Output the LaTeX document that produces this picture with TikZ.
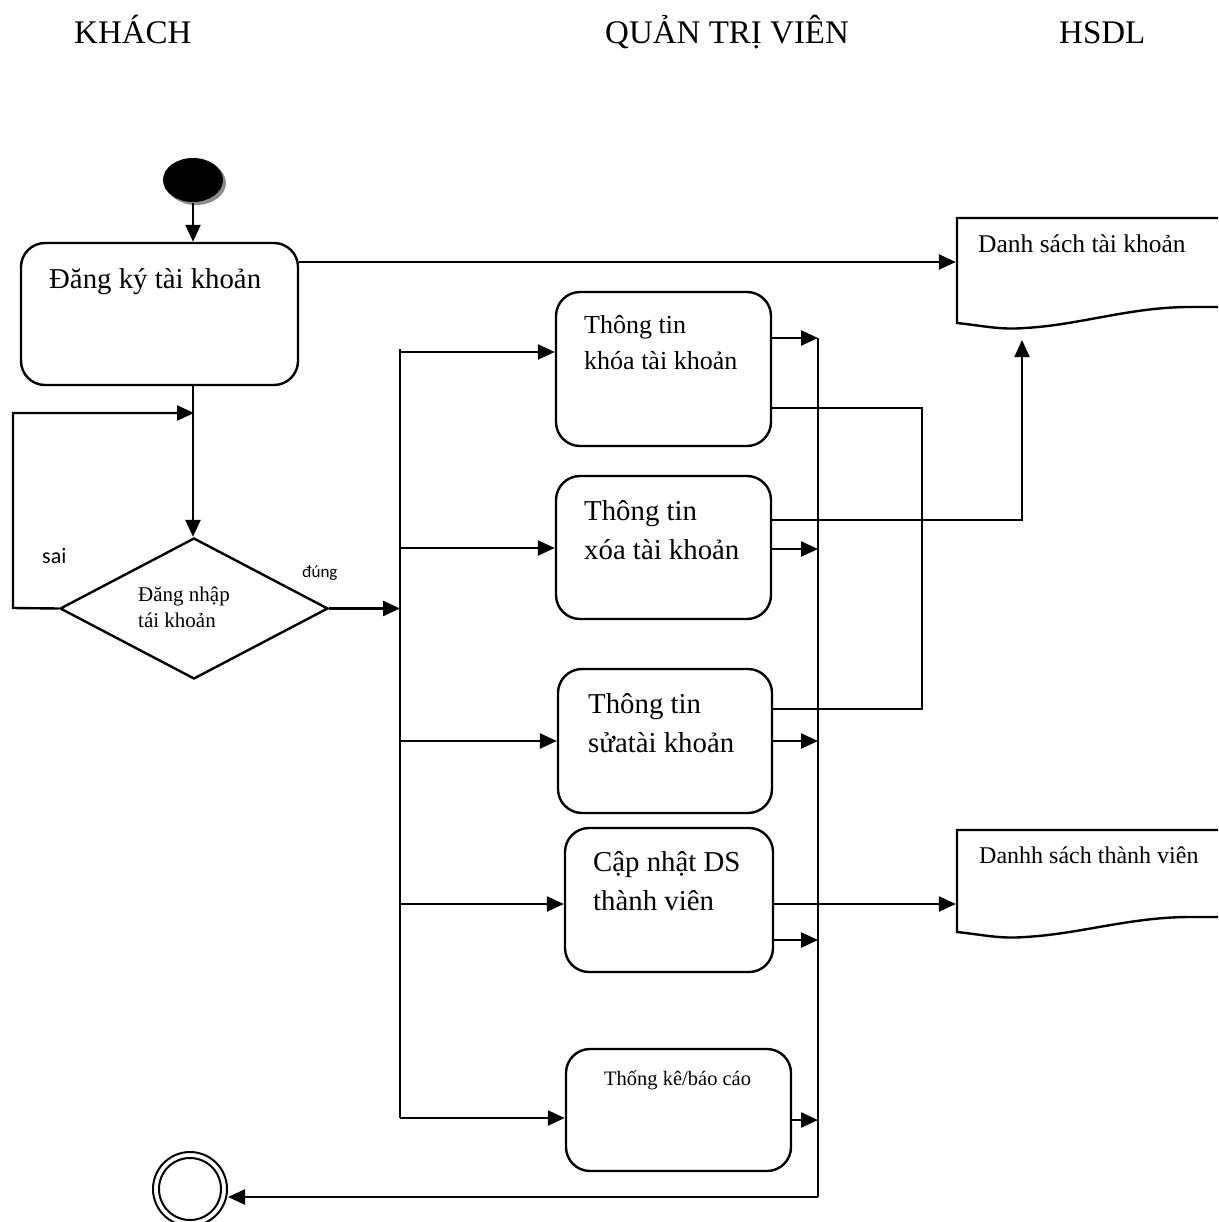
\documentclass[tikz,border=0pt]{standalone}
\usepackage{fontspec}
\setmainfont{Liberation Serif}
\newfontfamily\labelfont{Carlito}
\usetikzlibrary{arrows.meta,shapes.geometric,shadows}

\begin{document}
\begin{tikzpicture}[x=1pt,y=-1pt,line width=2.4pt,
  tip/.style={-{Triangle[length=17pt,width=15pt]}},
  thinline/.style={line width=2pt},
  activity/.style={draw,rounded corners=24pt,inner sep=0pt},
  txt/.style={anchor=base west,inner sep=0pt},
  lanefont/.style={font=\fontsize{33}{36}\selectfont},
  bigfont/.style={font=\fontsize{28.8}{30}\selectfont},
  midfont/.style={font=\fontsize{26}{28}\selectfont},
  smallfont/.style={font=\fontsize{20.5}{22}\selectfont},
  docfont/.style={font=\fontsize{25.5}{27}\selectfont}]
\useasboundingbox (0,0) rectangle (1218,1222);

% swimlane headings
\node[txt,lanefont] (hKhach) at (73,44) {KHÁCH};
\node[txt,lanefont] (hQtv) at (604,44) {QUẢN TRỊ VIÊN};
\node[txt,lanefont] (hHsdl) at (1058,44) {HSDL};

% initial and final states
\node[ellipse,fill=black,minimum width=60pt,minimum height=44pt,inner sep=0pt,
      drop shadow={shadow xshift=3pt,shadow yshift=-3pt,fill=black!45,opacity=1}] (start) at (193,180) {};
\node[circle,draw,line width=2pt,minimum size=74pt,inner sep=0pt] (stop) at (190,1189) {};
\node[circle,draw,line width=2pt,minimum size=62pt,inner sep=0pt] (stopIn) at (stop) {};

% activities
\node[activity,minimum width=277pt,minimum height=142pt] (reg) at (159.5,314) {};
\node[txt,bigfont] (regT) at (48,288) {Đăng ký tài khoản};

\node[activity,minimum width=215pt,minimum height=154pt] (lock) at (663.5,369) {};
\node[txt,midfont] (lockT1) at (583,333) {Thông tin};
\node[txt,midfont] (lockT2) at (583,369) {khóa tài khoản};

\node[activity,minimum width=215pt,minimum height=143pt] (del) at (663.5,547.5) {};
\node[txt,bigfont] (delT1) at (583,520) {Thông tin};
\node[txt,bigfont] (delT2) at (583,559) {xóa tài khoản};

\node[activity,minimum width=214pt,minimum height=144pt] (edit) at (665,741) {};
\node[txt,bigfont] (editT1) at (587,713) {Thông tin};
\node[txt,bigfont] (editT2) at (587,752) {sửatài khoản};

\node[activity,minimum width=208pt,minimum height=144pt] (upd) at (669,900) {};
\node[txt,bigfont] (updT1) at (592,871) {Cập nhật DS};
\node[txt,bigfont] (updT2) at (592,910) {thành viên};

\node[activity,minimum width=225pt,minimum height=122pt] (rep) at (678.5,1110) {};
\node[txt,smallfont] (repT) at (603,1085) {Thống kê/báo cáo};

% decision
\node[diamond,draw,minimum width=268pt,minimum height=141pt,inner sep=0pt] (login) at (194,608.5) {};
\node[txt,font=\fontsize{21}{23}\selectfont] (loginT1) at (137,601) {Đăng nhập};
\node[txt,font=\fontsize{21}{23}\selectfont] (loginT2) at (137,627) {tái khoản};
\node[txt,font=\labelfont\fontsize{22}{24}\selectfont] (sai) at (41,563) {sai};
\node[txt,font=\labelfont\fontsize{17}{19}\selectfont] (dung) at (301,577) {đúng};

% data stores (document shapes)
\node[inner sep=0pt,minimum width=261pt,minimum height=88pt] (acct) at (1087.5,262) {};
\draw (1218,218) -- (957,218) -- (957,323)
      .. controls (985,326) and (1000,330) .. (1025,328)
      .. controls (1080,325) and (1130,307) .. (1190,307) -- (1218,307);
\node[txt,docfont] (acctT) at (977,253) {Danh sách tài khoản};

\node[inner sep=0pt,minimum width=261pt,minimum height=148pt] (mem) at (1087.5,904) {};
\draw (1218,830) -- (957,830) -- (957,932)
      .. controls (985,935) and (1000,939) .. (1025,937)
      .. controls (1080,934) and (1130,917) .. (1190,917) -- (1218,917);
\node[txt,font=\fontsize{24}{26}\selectfont] (memT) at (978,863) {Danhh sách thành viên};

% bus bars
\coordinate (lTop) at (400,349);
\coordinate (lBot) at (400,1118);
\coordinate (rTop) at (818,338);
\coordinate (rBot) at (818,1197);
\coordinate (loopA) at (13,608);
\coordinate (loopB) at (13,413);
\coordinate (kEdge) at (922,408);
\coordinate (dEdge) at (1022,520);
\coordinate (acctIn) at (1022,340);

% flow
\draw[tip] (start.south) -- (start.south |- reg.north);
\draw[tip] (reg.east |- acct.west) -- (acct.west);
\draw[tip] (start.south |- reg.south) -- (start.south |- login.north);
\draw[tip] (login.west) -- (loopA) -- (loopB) -- (loopB -| login.north);
\draw[tip] (login.east) -- (login.east -| lTop);

\draw (lTop) -- (lBot);
\draw[tip] (lTop |- 0,352) -- (lock.west |- 0,352);
\draw[tip] (lTop |- 0,548) -- (del.west |- 0,548);
\draw[tip] (lTop |- 0,741) -- (edit.west |- 0,741);
\draw[tip] (lTop |- 0,904) -- (upd.west |- 0,904);
\draw[tip] (lBot) -- (lBot -| rep.west);

\draw (rTop) -- (rBot);
\draw[tip] (lock.east |- rTop) -- (rTop);
\draw[tip] (del.east |- 0,549) -- (rTop |- 0,549);
\draw[tip] (edit.east |- 0,741) -- (rTop |- 0,741);
\draw[tip] (upd.east |- 0,940) -- (rTop |- 0,940);
\draw[tip] (rep.east |- 0,1120) -- (rTop |- 0,1120);
\draw[tip] (rBot) -- (rBot -| stop.east);

\draw[thinline] (lock.east |- kEdge) -- (kEdge) -- (kEdge |- 0,709) -- (edit.east |- 0,709);
\draw[thinline,tip] (del.east |- dEdge) -- (dEdge) -- (acctIn);
\draw[tip] (upd.east |- mem.west) -- (mem.west);
\end{tikzpicture}
\end{document}
